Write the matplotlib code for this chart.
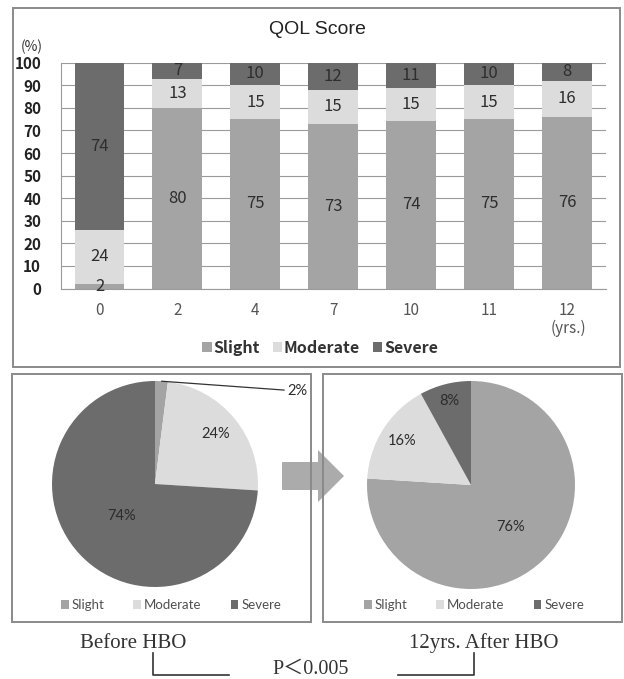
import numpy as np
import matplotlib
matplotlib.use("Agg")
import matplotlib.pyplot as plt
from matplotlib.patches import Rectangle, Polygon, Patch

# ---- data ----
years = ["0", "2", "4", "7", "10", "11", "12"]
slight = [2, 80, 75, 73, 74, 75, 76]
moderate = [24, 13, 15, 15, 15, 15, 16]
severe = [74, 7, 10, 12, 11, 10, 8]
categories = ["Slight", "Moderate", "Severe"]
before_hbo = [2, 24, 74]
after_hbo = [76, 16, 8]

# ---- style ----
C_SLIGHT = "#a4a4a4"
C_MOD = "#dcdcdc"
C_SEV = "#6c6c6c"
colors = [C_SLIGHT, C_MOD, C_SEV]
BOX = "#8a8a8a"
GOTHIC = ["Noto Sans CJK JP", "DejaVu Sans"]
ARIAL = ["Liberation Sans", "DejaVu Sans"]
PIEFONT = ["Lato", "DejaVu Sans"]
SERIF = ["Liberation Serif", "Noto Sans CJK JP"]

W, H = 624, 679
fig = plt.figure(figsize=(W / 100, H / 100), dpi=100)
fig.patch.set_facecolor("white")


def fx(x):
    return x / W


def fy(y):
    return 1 - y / H


def px_axes(x0, y0, x1, y1):
    return fig.add_axes([fx(x0), fy(y1), fx(x1) - fx(x0), (y1 - y0) / H])


# ---- arrow between the pies (drawn under the frames) ----
arrow = Polygon(
    [[fx(282), fy(462)], [fx(318), fy(462)], [fx(318), fy(450)], [fx(344), fy(476)],
     [fx(318), fy(502)], [fx(318), fy(490)], [fx(282), fy(490)]],
    closed=True, transform=fig.transFigure, facecolor="#ababab", edgecolor="none", zorder=0)
fig.patches.append(arrow)

# ---- frames ----
for (x0, y0, x1, y1) in [(13, 8, 620, 367), (12, 374, 311, 622), (323, 374, 622, 622)]:
    fig.patches.append(Rectangle((fx(x0), fy(y1)), fx(x1) - fx(x0), (y1 - y0) / H,
                                 transform=fig.transFigure, fill=False,
                                 edgecolor=BOX, linewidth=1.4, zorder=1))

# ---- stacked bar chart ----
ax = px_axes(60.5, 62.7, 606, 288.5)
x = np.arange(len(years))
bw = 0.64
s = np.array(slight)
m = np.array(moderate)
v = np.array(severe)
ax.bar(x, s, bw, color=C_SLIGHT, zorder=2)
ax.bar(x, m, bw, bottom=s, color=C_MOD, zorder=2)
ax.bar(x, v, bw, bottom=s + m, color=C_SEV, zorder=2)
for i in range(len(years)):
    for val, base in [(s[i], 0), (m[i], s[i]), (v[i], s[i] + m[i])]:
        ax.text(x[i], base + val / 2, str(val), ha="center", va="center",
                fontsize=12, color="#2e2e2e", family=GOTHIC, zorder=3)
ax.set_xlim(-0.5, len(years) - 0.5)
ax.set_ylim(0, 100)
ax.set_yticks(np.arange(0, 101, 10))
ax.yaxis.grid(True, color="#9a9a9a", linewidth=0.8, zorder=0)
ax.set_axisbelow(True)
for sp in ["top", "right"]:
    ax.spines[sp].set_visible(False)
ax.spines["left"].set_color("#9a9a9a")
ax.spines["bottom"].set_color("#9a9a9a")
ax.tick_params(axis="y", length=0, pad=14, labelsize=11, labelcolor="#222222")
ax.tick_params(axis="x", length=0, pad=10, labelsize=11, labelcolor="#555555")
ax.set_xticks(x)
ax.set_xticklabels(years)
for lab in ax.get_yticklabels():
    lab.set_family(GOTHIC)
    lab.set_fontweight("bold")
for lab in ax.get_xticklabels():
    lab.set_family(GOTHIC)

fig.text(fx(317), fy(30), "QOL Score", ha="center", va="center", fontsize=14,
         family=ARIAL, color="#222222")
fig.text(fx(32), fy(47), "(%)", ha="center", va="center", fontsize=10,
         family=GOTHIC, color="#333333")
fig.text(fx(568), fy(328), "(yrs.)", ha="center", va="center", fontsize=11,
         family=GOTHIC, color="#555555")

handles = [Patch(facecolor=c, edgecolor="none") for c in colors]
fig.legend(handles, categories, loc="center", bbox_to_anchor=(fx(320), fy(348)),
           ncol=3, frameon=False, handlelength=0.6, handleheight=0.6,
           handletextpad=0.1, columnspacing=0.8,
           prop={"family": GOTHIC, "size": 11.5, "weight": "bold"}, labelcolor="#333333")


# ---- pies ----
def draw_pie(cx, cy, r, values, label_r, leg_cx):
    a = px_axes(cx - r, cy - r, cx + r, cy + r)
    wedges, _ = a.pie(values, colors=colors, startangle=90, counterclock=False,
                      radius=1.0, wedgeprops={"linewidth": 0})
    a.set_xlim(-1, 1)
    a.set_ylim(-1, 1)
    a.set_aspect("equal")
    a.axis("off")
    for w, val, lr in zip(wedges, values, label_r):
        mid = np.deg2rad((w.theta1 + w.theta2) / 2)
        if lr is None:
            continue
        a.text(lr * np.cos(mid), lr * np.sin(mid), f"{val}%", ha="center", va="center",
               fontsize=10.5, family=PIEFONT, color="#2c2c2c")
    fig.legend(handles, categories, loc="center", bbox_to_anchor=(fx(leg_cx), fy(605)),
               ncol=3, frameon=False, handlelength=0.6, handleheight=0.6,
               handletextpad=0.2, columnspacing=2.2,
               prop={"family": PIEFONT, "size": 9.5}, labelcolor="#505050")
    return a, wedges


pa, pw = draw_pie(155, 484, 103, before_hbo, [None, 0.76, 0.45], 171)
# small slice labelled outside with a leader line
w0 = pw[0]
mid0 = np.deg2rad((w0.theta1 + w0.theta2) / 2)
pa.annotate(f"{before_hbo[0]}%", xy=(np.cos(mid0), np.sin(mid0)),
            xytext=(fx(287), fy(391)), textcoords="figure fraction",
            ha="left", va="center", fontsize=10.5, family=PIEFONT, color="#2c2c2c",
            annotation_clip=False,
            arrowprops={"arrowstyle": "-", "color": "#333333", "linewidth": 0.9,
                        "shrinkA": 0, "shrinkB": 0})

draw_pie(471, 485, 104, after_hbo, [0.55, 0.79, 0.83], 474)

# ---- captions and significance bracket ----
fig.text(fx(133), fy(643), "Before HBO", ha="center", va="center", fontsize=15,
         family=SERIF, color="#333333")
fig.text(fx(484), fy(643), "12yrs. After HBO", ha="center", va="center", fontsize=15,
         family=SERIF, color="#333333")
fig.text(fx(311), fy(669), "P\uff1c0.005", ha="center", va="center", fontsize=14.5,
         family=SERIF, color="#333333")
fig.lines.append(plt.Line2D([fx(153), fx(153), fx(229)], [fy(653), fy(675), fy(675)],
                            transform=fig.transFigure, color="#333333", linewidth=1.2))
fig.lines.append(plt.Line2D([fx(398), fx(474), fx(474)], [fy(675), fy(675), fy(653)],
                            transform=fig.transFigure, color="#333333", linewidth=1.2))

fig.savefig("out.png", dpi=100, facecolor="white")
